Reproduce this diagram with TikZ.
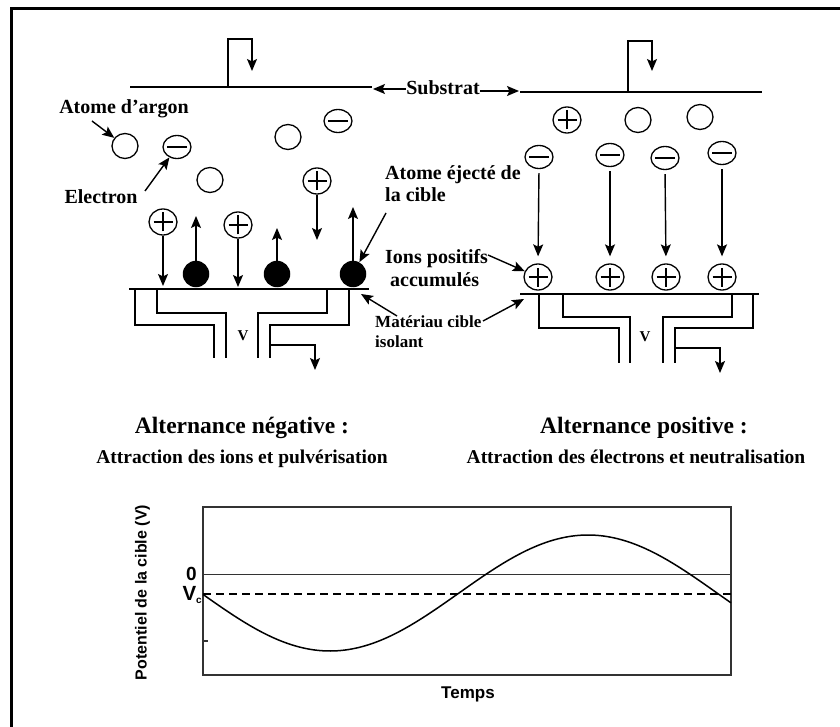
\documentclass[tikz,border=0pt]{standalone}
\usepackage{fontspec}
\setmainfont{Liberation Serif}
\newfontfamily\plotfont{Liberation Sans}
\usetikzlibrary{arrows.meta,shapes.geometric}

\begin{document}
\begin{tikzpicture}[x=1pt,y=-1pt,
  wire/.style={line width=1.4pt},
  plate/.style={line width=2.8pt},
  arr/.style={line width=1.4pt,-{Stealth[length=12pt,width=10pt,inset=2.5pt]}},
  particle/.style={draw,ellipse,line width=1.3pt,inner sep=0pt},
  atom/.style={particle,minimum width=26pt,minimum height=25pt},
  elec/.style={particle,minimum width=28pt,minimum height=23pt,
    path picture={\draw[line width=1.3pt]
      ([xshift=-10pt]path picture bounding box.center) --
      ([xshift=10pt]path picture bounding box.center);}},
  ionp/.style={particle,minimum width=28pt,minimum height=26pt,
    path picture={\draw[line width=1.3pt]
      ([xshift=-9.5pt]path picture bounding box.center) --
      ([xshift=9.5pt]path picture bounding box.center)
      ([yshift=-9.5pt]path picture bounding box.center) --
      ([yshift=9.5pt]path picture bounding box.center);}},
  ball/.style={circle,fill=black,minimum size=26.5pt,inner sep=0pt},
  lbl/.style={font=\fontsize{20}{22}\selectfont\bfseries,inner sep=0pt},
  smalllbl/.style={font=\fontsize{17}{20}\selectfont\bfseries,inner sep=0pt},
  vlbl/.style={font=\fontsize{15}{17}\selectfont\bfseries,inner sep=0pt},
  heading/.style={font=\fontsize{23.5}{26}\selectfont\bfseries,inner sep=0pt},
  subtitle/.style={font=\fontsize{19.5}{22}\selectfont\bfseries,inner sep=0pt},
  axlbl/.style={font=\plotfont\bfseries\fontsize{16}{18}\selectfont,inner sep=0pt},
  axis/.style={line width=1.4pt,draw=black!80}]

\useasboundingbox (0,0) rectangle (840,727);
\fill[white] (0,0) rectangle (840,727);

% outer frame
\draw[line width=3pt] (11,745) -- (11,9) -- (855,9);

% ---------- left cell: negative half-wave ----------
\draw[plate] (130,87) -- (372,87);
\draw[arr] (228,87) |- (252,39) -- (252,71);

\node[atom] (aL1) at (125,146) {};
\node[elec] (eL1) at (177,147) {};
\node[atom] (aL2) at (210,180) {};
\node[atom] (aL3) at (288,137) {};
\node[elec] (eL2) at (338,121) {};
\node[ionp] (iL1) at (317,181) {};
\node[ionp] (iL2) at (163,222) {};
\node[ionp] (iL3) at (238,225) {};
\node[ball] (bL1) at (196,274) {};
\node[ball] (bL2) at (277,274) {};
\node[ball] (bL3) at (353,274) {};

\coordinate (iL1t) at (317,240);
\coordinate (iL2t) at (163,286);
\coordinate (iL3t) at (238,287);
\coordinate (bL1t) at (196,216);
\coordinate (bL2t) at (277,228);
\coordinate (bL3t) at (353,207);
\draw[arr] (iL1.south) -- (iL1t);
\draw[arr] (iL2.south) -- (iL2t);
\draw[arr] (iL3.south) -- (iL3t);
\draw[arr] (bL1.north) -- (bL1t);
\draw[arr] (bL2.north) -- (bL2t);
\draw[arr] (bL3.north) -- (bL3t);

% target plate and electrode
\draw[plate] (129,289) -- (369,289);
\draw[wire] (135,289) -- (135,325) -- (214,325) -- (214,358);
\draw[wire] (157,289) -- (157,313) -- (226,313) -- (226,358);
\draw[wire] (327,289) -- (327,313) -- (258,313) -- (258,358);
\draw[wire] (349,289) -- (349,325) -- (270,325) -- (270,358);
\draw[arr] (270,345) -- (315,345) -- (315,370);
\node[vlbl,anchor=base] (vL) at (243,340) {V};

% labels of the left cell
\node[lbl,anchor=base] (argon) at (124,113.5) {Atome d’argon};
\node[lbl,anchor=base] (electron) at (101,203.5) {Electron};
\coordinate (argonT) at (92,121);
\coordinate (elecT) at (145,191);
\draw[arr] (argonT) -- (aL1);
\draw[arr] (elecT) -- (eL1);

% ---------- substrate label ----------
\node[lbl,anchor=base] (subst) at (443,95) {Substrat};
\coordinate (sub1e) at (373,89);
\coordinate (sub2s) at (519,91);
\draw[arr] (subst.west |- sub1e) -- (sub1e);
\draw[arr] (subst.east |- sub2s) -- (sub2s);

% ---------- middle labels ----------
\node[lbl,anchor=base west] (eject1) at (385,180) {Atome éjecté de};
\node[lbl,anchor=base west] (eject2) at (385,202) {la cible};
\coordinate (ejectT) at (386,213);
\draw[arr] (ejectT) -- (bL3);

\node[lbl,anchor=base west] (ions1) at (385,264) {Ions positifs};
\node[lbl,anchor=base west] (ions2) at (390,287) {accumulés};

\node[smalllbl,anchor=base west] (mat1) at (375,327) {Matériau cible};
\node[smalllbl,anchor=base west] (mat2) at (375,347) {isolant};
\coordinate (matT1) at (397,316);
\coordinate (matT2) at (483,321);
\coordinate (matH1) at (361,294);
\coordinate (matH2) at (524,299);
\draw[arr] (matT1) -- (matH1);
\draw[arr] (matT2) -- (matH2);

% ---------- right cell: positive half-wave ----------
\draw[plate] (520,92) -- (762,92);
\draw[arr] (628,92) |- (652,41) -- (652,71);

\node[ionp] (iR0) at (567,120) {};
\node[atom] (aR1) at (638,120) {};
\node[atom] (aR2) at (700,117) {};
\node[elec] (eR1) at (539,157) {};
\node[elec] (eR2) at (610,155) {};
\node[elec] (eR3) at (665,158) {};
\node[elec] (eR4) at (722,153) {};
\node[ionp] (iR1) at (538,277) {};
\node[ionp] (iR2) at (610,277) {};
\node[ionp] (iR3) at (666,277) {};
\node[ionp] (iR4) at (722,277) {};
\draw[arr,shorten <=4pt,shorten >=7pt] (eR1.south) -- (iR1.north);
\draw[arr,shorten <=4pt,shorten >=7pt] (eR2.south) -- (iR2.north);
\draw[arr,shorten <=4pt,shorten >=7pt] (eR3.south) -- (iR3.north);
\draw[arr,shorten <=4pt,shorten >=7pt] (eR4.south) -- (iR4.north);

\coordinate (ionsT) at (488,255);
\draw[arr] (ionsT) -- (iR1);

\draw[plate] (520,294) -- (759,294);
\draw[wire] (539,294) -- (539,328) -- (619,328) -- (619,363);
\draw[wire] (563,294) -- (563,317) -- (630,317) -- (630,363);
\draw[wire] (732,294) -- (732,317) -- (663,317) -- (663,363);
\draw[wire] (753,294) -- (753,328) -- (675,328) -- (675,363);
\draw[arr] (675,348) -- (720,348) -- (720,373);
\node[vlbl,anchor=base] (vR) at (645,341) {V};

% ---------- captions ----------
\node[heading,anchor=base] (altneg) at (242,433) {Alternance négative :};
\node[subtitle,anchor=base] (attrneg) at (242,463) {Attraction des ions et pulvérisation};
\node[heading,anchor=base] (altpos) at (644,433) {Alternance positive :};
\node[subtitle,anchor=base] (attrpos) at (636,463) {Attraction des électrons et neutralisation};

% ---------- target potential versus time ----------
\draw[axis] (203,507) rectangle (731,675);
\draw[axis] (203,574.5) -- (731,574.5);
\draw[line width=1.8pt,dash pattern=on 8pt off 5pt] (203,594) -- (731,594);
\draw[axis] (203,641) -- (208,641);
\draw[line width=1.5pt] plot[domain=203:731,samples=150,smooth]
  (\x,{593-58*sin(((\x-459)/516)*360)});

\node[font=\plotfont\bfseries\fontsize{19}{22}\selectfont,inner sep=0pt,anchor=base] (zero) at (191.5,580) {0};
\node[font=\plotfont\bfseries\fontsize{20.5}{22}\selectfont,inner sep=0pt,anchor=base east] (vc) at (202,600.5)
  {V\raisebox{-3pt}{\fontsize{10}{10}\selectfont c}};
\node[axlbl,rotate=90] (ylab) at (142.5,592.5) {Potentiel de la cible (V)};
\node[font=\plotfont\bfseries\fontsize{17}{19}\selectfont,inner sep=0pt,anchor=base] (temps) at (468,698) {Temps};

\end{tikzpicture}
\end{document}
